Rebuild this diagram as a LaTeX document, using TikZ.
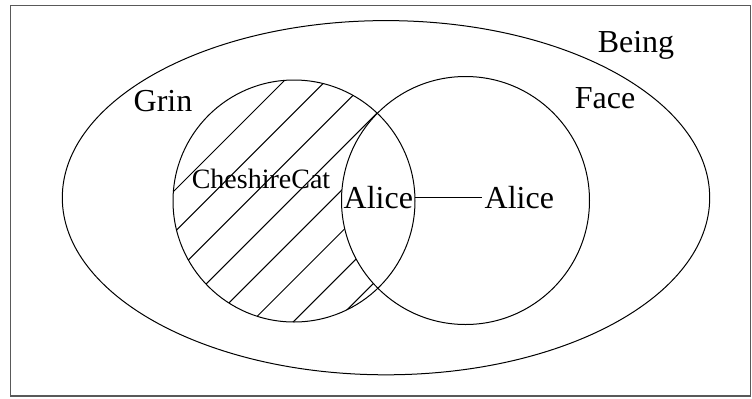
\documentclass[tikz,border=0pt]{standalone}
\usepackage{fontspec}
\setmainfont{Liberation Serif}
\begin{document}
\begin{tikzpicture}[x=0.5pt,y=-0.5pt,
  shape line/.style={draw=black,line width=0.5pt},
  hatchline/.style={draw=black,line width=0.5pt},
  frameline/.style={draw=black!65,line width=0.8pt},
  lbl/.style={anchor=base,inner sep=1pt,font=\fontsize{16}{19}\selectfont},
  smalllbl/.style={anchor=base,inner sep=1pt,font=\fontsize{14}{17}\selectfont}]
\useasboundingbox (0,0) rectangle (752,398);
\draw[frameline] (10.5,5.5) rectangle (750.5,396);
% hatching of Grin minus Face
\begin{scope}
  \clip (294,201) circle [radius=121];
  \foreach \k in {0,...,7} {
    \draw[hatchline] ({365+41.7*\k},0) -- ({365+41.7*\k-400},400);
  }
\end{scope}
\fill[white] (465.5,200.5) circle [radius=124];
% outlines
\draw[shape line] (386,197.7) ellipse [x radius=323.7, y radius=177.1];
\draw[shape line] (294,201) circle [radius=121];
\draw[shape line] (465.5,200.5) circle [radius=124];
% labels
\node[lbl] (being) at (636,52) {Being};
\node[lbl] (face) at (605,108) {Face};
\node[lbl] (grin) at (163,111.7) {Grin};
\node[smalllbl] (cat) at (261,188.3) {CheshireCat};
\node[lbl] (alice1) at (378.3,208) {Alice};
\node[lbl] (alice2) at (519.3,208) {Alice};
\draw[shape line] (alice1.east) -- (alice2.west);
\end{tikzpicture}
\end{document}
